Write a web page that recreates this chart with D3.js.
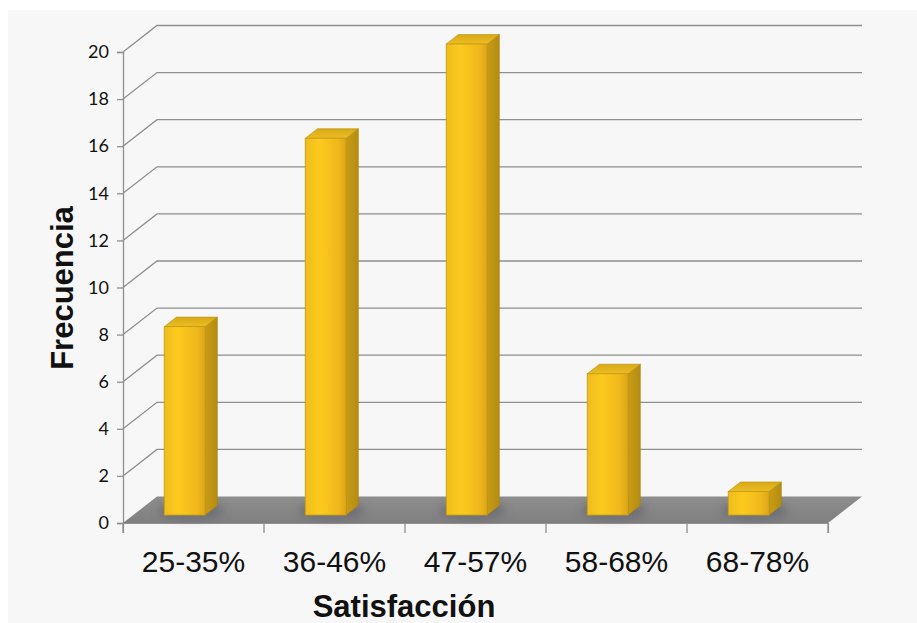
<!DOCTYPE html>
<html>
<head>
<meta charset="utf-8">
<script src="https://cdn.jsdelivr.net/npm/d3@7"></script>
<style>
  html, body { margin: 0; padding: 0; background: #ffffff; }
  svg { display: block; }
</style>
</head>
<body>
<svg id="chart" width="917" height="623"></svg>
<script>
// Frequency of satisfaction ranges
const categories = ["25-35%", "36-46%", "47-57%", "58-68%", "68-78%"];
const frequencies = [8, 16, 20, 6, 1];
const yTicks = [0, 2, 4, 6, 8, 10, 12, 14, 16, 18, 20];
const xTitle = "Satisfacción";
const yTitle = "Frecuencia";

const svg = d3.select("#chart");
const W = 917, H = 623;

// front plane of the 3-D box
const front = { left: 123, right: 828, bottom: 523, top: 52 };
// depth vector of the box (front plane -> back wall)
const depth = { dx: 34, dy: -26.5 };
// bars sit between these fractions of the depth
const barDepth = { near: 0.30, far: 0.66 };

const x = d3.scaleBand().domain(categories).range([front.left, front.right]).padding(0);
const y = d3.scaleLinear().domain([0, 20]).range([front.bottom, front.top]);

const defs = svg.append("defs");

const gFront = defs.append("linearGradient").attr("id", "barFront").attr("x1", 0).attr("x2", 1).attr("y1", 0).attr("y2", 0);
gFront.append("stop").attr("offset", "0%").attr("stop-color", "#efbd1c");
gFront.append("stop").attr("offset", "35%").attr("stop-color", "#fcca1e");
gFront.append("stop").attr("offset", "80%").attr("stop-color", "#f0b81c");
gFront.append("stop").attr("offset", "100%").attr("stop-color", "#dca618");

const gSide = defs.append("linearGradient").attr("id", "barSide").attr("x1", 0).attr("x2", 1).attr("y1", 0).attr("y2", 0);
gSide.append("stop").attr("offset", "0%").attr("stop-color", "#c99c14");
gSide.append("stop").attr("offset", "100%").attr("stop-color", "#b48c12");

const gTop = defs.append("linearGradient").attr("id", "barTop").attr("x1", 0).attr("x2", 0).attr("y1", 0).attr("y2", 1);
gTop.append("stop").attr("offset", "0%").attr("stop-color", "#d8a916");
gTop.append("stop").attr("offset", "100%").attr("stop-color", "#ecbd22");

const gFloor = defs.append("linearGradient").attr("id", "floorFill").attr("x1", 0).attr("x2", 0).attr("y1", 0).attr("y2", 1);
gFloor.append("stop").attr("offset", "0%").attr("stop-color", "#8e8e8e");
gFloor.append("stop").attr("offset", "100%").attr("stop-color", "#7f7f7f");

const shadowBlur = defs.append("filter").attr("id", "shadowBlur").attr("x", "-50%").attr("y", "-50%").attr("width", "200%").attr("height", "200%");
shadowBlur.append("feGaussianBlur").attr("stdDeviation", 4);

// chart area background
svg.append("rect").attr("x", 8).attr("y", 10).attr("width", W - 8).attr("height", H - 10).attr("fill", "#f7f7f7");

const gridColor = "#8f8f8f";

// gridlines: diagonal along the left wall, horizontal along the back wall
const grid = svg.append("g");
yTicks.filter(v => v > 0).forEach(v => {
  const yy = y(v);
  grid.append("path")
    .attr("d", `M${front.left},${yy} L${front.left + depth.dx},${yy + depth.dy} L${front.right + depth.dx},${yy + depth.dy}`)
    .attr("fill", "none").attr("stroke", gridColor).attr("stroke-width", 1.3);
});

// vertical value axis with ticks and labels
const yAxis = d3.axisLeft(y).tickValues(yTicks).tickSize(6).tickPadding(8).tickFormat(d3.format("d"));
const yAxisG = svg.append("g").attr("transform", `translate(${front.left},0)`).call(yAxis);
yAxisG.select(".domain").attr("stroke", gridColor).attr("stroke-width", 1.3);
yAxisG.selectAll(".tick line").attr("stroke", gridColor).attr("stroke-width", 1.3);
yAxisG.selectAll(".tick text")
  .attr("font-family", "Lato, 'Open Sans', sans-serif").attr("font-size", 18).attr("fill", "#111");

// floor
const floorPts = [
  [front.left, front.bottom],
  [front.right, front.bottom],
  [front.right + depth.dx, front.bottom + depth.dy],
  [front.left + depth.dx, front.bottom + depth.dy]
];
svg.append("path").attr("d", "M" + floorPts.map(p => p.join(",")).join("L") + "Z").attr("fill", "url(#floorFill)");

// category axis along the front edge of the floor
const xAxis = d3.axisBottom(x).tickSize(10).tickSizeOuter(10).tickFormat("");
const xAxisG = svg.append("g").attr("transform", `translate(0,${front.bottom})`).call(xAxis);
xAxisG.select(".domain").attr("stroke", gridColor).attr("stroke-width", 1.2);
xAxisG.selectAll(".tick").remove();
// boundary ticks between categories
const boundaries = categories.map(c => x(c)).concat([front.right]);
xAxisG.selectAll(".bnd").data(boundaries).join("line")
  .attr("x1", d => d).attr("x2", d => d).attr("y1", 0).attr("y2", 10)
  .attr("stroke", gridColor).attr("stroke-width", 1.3);

// category labels
svg.append("g").selectAll("text").data(categories).join("text")
  .attr("x", d => x(d) + x.bandwidth() / 2)
  .attr("y", 572)
  .attr("text-anchor", "middle")
  .attr("font-family", "'Liberation Sans', Arial, sans-serif")
  .attr("font-size", 30)
  .attr("fill", "#111")
  .text(d => d);

// bars
const bw = x.bandwidth();
const barOffset = bw * 0.22, barWidth = bw * 0.29;
const nearDx = depth.dx * barDepth.near, nearDy = depth.dy * barDepth.near;
const farDx = depth.dx * barDepth.far, farDy = depth.dy * barDepth.far;
const ddx = farDx - nearDx, ddy = farDy - nearDy;

const bars = svg.append("g").selectAll("g").data(categories.map((c, i) => ({ c, v: frequencies[i] }))).join("g");

// soft shadow on the floor around each bar base
bars.append("ellipse")
  .attr("cx", d => x(d.c) + barOffset + nearDx + barWidth / 2 + ddx / 2)
  .attr("cy", y(0) + nearDy + ddy / 2)
  .attr("rx", barWidth / 2 + 12).attr("ry", 9)
  .attr("fill", "#5a5a6a").attr("opacity", 0.55).attr("filter", "url(#shadowBlur)");

bars.each(function(d) {
  const g = d3.select(this);
  const x0 = x(d.c) + barOffset + nearDx;
  const x1 = x0 + barWidth;
  const yb = y(0) + nearDy;
  const yt = y(d.v) + nearDy;
  // side face
  g.append("path")
    .attr("d", `M${x1},${yt} L${x1 + ddx},${yt + ddy} L${x1 + ddx},${yb + ddy} L${x1},${yb} Z`)
    .attr("fill", "url(#barSide)").attr("stroke", "#a9820e").attr("stroke-width", 0.6);
  // top face
  g.append("path")
    .attr("d", `M${x0},${yt} L${x0 + ddx},${yt + ddy} L${x1 + ddx},${yt + ddy} L${x1},${yt} Z`)
    .attr("fill", "url(#barTop)").attr("stroke", "#b8900f").attr("stroke-width", 0.6);
  // front face
  g.append("rect")
    .attr("x", x0).attr("y", yt).attr("width", barWidth).attr("height", yb - yt)
    .attr("fill", "url(#barFront)").attr("stroke", "#c39a14").attr("stroke-width", 0.8);
});

// axis titles
svg.append("text")
  .attr("x", 404).attr("y", 617)
  .attr("text-anchor", "middle")
  .attr("font-family", "'Liberation Sans', Arial, sans-serif")
  .attr("font-weight", "bold").attr("font-size", 31).attr("fill", "#111")
  .text(xTitle);

svg.append("text")
  .attr("transform", "translate(73,288) rotate(-90)")
  .attr("text-anchor", "middle")
  .attr("font-family", "'Liberation Sans', Arial, sans-serif")
  .attr("font-weight", "bold").attr("font-size", 31).attr("fill", "#111")
  .text(yTitle);
</script>
</body>
</html>
